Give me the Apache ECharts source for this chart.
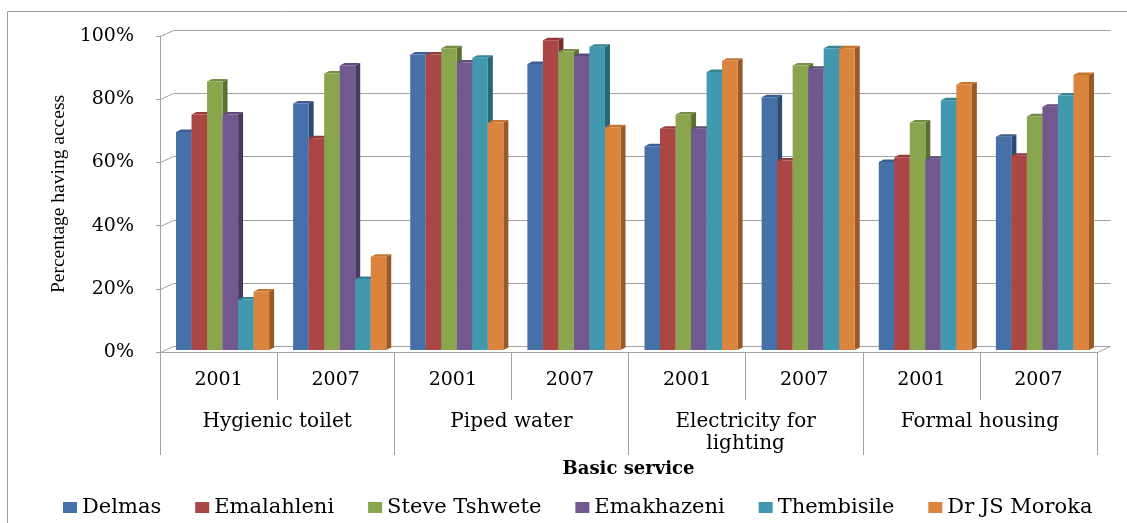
<!DOCTYPE html>
<html>
<head>
<meta charset="utf-8">
<script src="https://cdn.jsdelivr.net/npm/echarts@6/dist/echarts.min.js"></script>
<style>
  html, body { margin: 0; padding: 0; background: #fff; }
  #chart { width: 1127px; height: 523px; }
</style>
</head>
<body>
<div id="chart"></div>
<script>
// Access to basic services by local municipality, 2001 vs 2007
const years = ['2001', '2007', '2001', '2007', '2001', '2007', '2001', '2007'];
const services = ['Hygienic toilet', 'Piped water', 'Electricity for\nlighting', 'Formal housing'];
const yTicks = [0, 20, 40, 60, 80, 100];

const municipalities = ['Delmas', 'Emalahleni', 'Steve Tshwete', 'Emakhazeni', 'Thembisile', 'Dr JS Moroka'];
const delmas       = [69,   78,   93.5, 90.5, 64.5, 80,   59.5, 67.5];
const emalahleni   = [74.5, 67,   93.5, 98,   70,   60,   61,   61.5];
const steveTshwete = [85,   87.5, 95.5, 94.5, 74.5, 90,   72,   74];
const emakhazeni   = [74.5, 90,   91,   93,   70,   89,   60.5, 77];
const thembisile   = [16,   22.5, 92.5, 96,   88,   95.5, 79,   80.5];
const drJSMoroka   = [18.5, 29.5, 72,   70.5, 91.5, 95.5, 84,   87];
const seriesValues = [delmas, emalahleni, steveTshwete, emakhazeni, thembisile, drJSMoroka];

// front / top / side shades for each column colour
const palette = [
  { front: '#4570A8', top: '#3A5F8F', side: '#2C4B72' },
  { front: '#AA4643', top: '#923B38', side: '#74302D' },
  { front: '#89A54E', top: '#748D41', side: '#5C7033' },
  { front: '#71588F', top: '#5F4A79', side: '#4A3A5F' },
  { front: '#4198AF', top: '#378295', side: '#2A6676' },
  { front: '#DB843D', top: '#C47330', side: '#9A5A26' }
];

const GRID_COLOR = '#a3a3a3';
const WALL_DX = 13, WALL_DY = 6;      // depth of the floor / back wall
const BAR_DX = 5, BAR_DY = 2.5;       // depth of each column
const BAR_SHIFT_X = 4, BAR_SHIFT_Y = 2; // columns sit a little behind the front plane
const GROUP_RATIO = 0.795;            // share of a category occupied by the six columns

const chart = echarts.init(document.getElementById('chart'), null, { renderer: 'canvas' });

function crisp(v) { return Math.round(v) + 0.5; }

// back wall gridlines, left wall connectors and floor edge
function renderWall(params, api) {
  const v = api.value(1);
  const cs = params.coordSys;
  const y = crisp(api.coord([0, v])[1]);
  const x0 = crisp(cs.x);
  const x1 = crisp(cs.x + cs.width);
  const children = [{
    type: 'polyline',
    shape: { points: [[x0, y], [x0 + WALL_DX, y - WALL_DY], [x1 + WALL_DX, y - WALL_DY]] },
    style: { stroke: GRID_COLOR, lineWidth: 1, fill: null }
  }];
  if (v === 0) {
    children.push({
      type: 'line',
      shape: { x1: x1, y1: y, x2: x1 + WALL_DX, y2: y - WALL_DY },
      style: { stroke: GRID_COLOR, lineWidth: 1 }
    });
  }
  return { type: 'group', children: children };
}

function columnRenderer(k) {
  const c = palette[k];
  const n = municipalities.length;
  return function (params, api) {
    const idx = api.value(0);
    const val = api.value(1);
    const band = api.size([1, 0])[0];
    const base = api.coord([idx, 0]);
    const top = api.coord([idx, val]);
    const w = band * GROUP_RATIO / n;
    const x0 = base[0] - w * n / 2 + k * w + BAR_SHIFT_X;
    const x1 = x0 + w;
    const yb = base[1] - BAR_SHIFT_Y;
    const yt = top[1] - BAR_SHIFT_Y;
    return {
      type: 'group',
      children: [
        { type: 'polygon', shape: { points: [[x1, yt], [x1 + BAR_DX, yt - BAR_DY], [x1 + BAR_DX, yb - BAR_DY], [x1, yb]] }, style: { fill: c.side } },
        { type: 'polygon', shape: { points: [[x0, yt], [x0 + BAR_DX, yt - BAR_DY], [x1 + BAR_DX, yt - BAR_DY], [x1, yt]] }, style: { fill: c.top } },
        { type: 'rect', shape: { x: x0, y: yt, width: w, height: yb - yt }, style: { fill: c.front } }
      ]
    };
  };
}

const series = [{
  name: 'wall',
  type: 'custom',
  xAxisIndex: 0,
  yAxisIndex: 0,
  z: 1,
  silent: true,
  renderItem: renderWall,
  data: yTicks.map(v => [0, v])
}];

municipalities.forEach((name, k) => {
  series.push({
    name: name,
    type: 'custom',
    xAxisIndex: 0,
    yAxisIndex: 0,
    z: 2,
    itemStyle: { color: palette[k].front },
    renderItem: columnRenderer(k),
    data: seriesValues[k].map((v, i) => [i, v])
  });
});

const option = {
  animation: false,
  backgroundColor: '#ffffff',
  graphic: [{
    type: 'rect',
    silent: true,
    shape: { x: 7.5, y: 11.5, width: 1140, height: 540 },
    style: { fill: null, stroke: '#9f9f9f', lineWidth: 1 }
  }],
  grid: { left: 160, top: 36, width: 937, height: 316, containLabel: false },
  xAxis: [{
    type: 'category',
    data: years,
    position: 'bottom',
    boundaryGap: true,
    axisLine: { show: true, lineStyle: { color: GRID_COLOR } },
    axisTick: { show: true, interval: 0, length: 48, lineStyle: { color: GRID_COLOR } },
    axisLabel: { interval: 0, margin: 19, color: '#000', fontFamily: 'DejaVu Serif', fontSize: 19 },
    splitLine: { show: false }
  }, {
    type: 'category',
    data: services,
    position: 'bottom',
    boundaryGap: true,
    axisLine: { show: false },
    axisTick: { show: true, interval: 0, length: 103, lineStyle: { color: GRID_COLOR } },
    axisLabel: { interval: 0, margin: 59, color: '#000', fontFamily: 'DejaVu Serif', fontSize: 20, lineHeight: 22 },
    name: 'Basic service',
    nameLocation: 'middle',
    nameGap: 105,
    nameTextStyle: { color: '#000', fontFamily: 'DejaVu Serif', fontWeight: 'bold', fontSize: 18 },
    splitLine: { show: false }
  }],
  yAxis: {
    type: 'value',
    min: 0,
    max: 100,
    interval: 20,
    axisLine: { show: true, lineStyle: { color: GRID_COLOR } },
    axisTick: { show: true, length: 4, lineStyle: { color: GRID_COLOR } },
    axisLabel: { margin: 26, color: '#000', fontFamily: 'DejaVu Serif', fontSize: 19, formatter: '{value}%' },
    splitLine: { show: false },
    name: 'Percentage having access',
    nameLocation: 'middle',
    nameGap: 90,
    nameTextStyle: { color: '#000', fontFamily: 'Liberation Serif', fontSize: 19.5 }
  },
  legend: {
    data: municipalities,
    left: 63,
    top: 497,
    padding: 0,
    icon: 'rect',
    itemWidth: 14,
    itemHeight: 11,
    itemGap: 34,
    textStyle: { color: '#000', fontFamily: 'DejaVu Serif', fontSize: 21 }
  },
  series: series
};

chart.setOption(option);
</script>
</body>
</html>
